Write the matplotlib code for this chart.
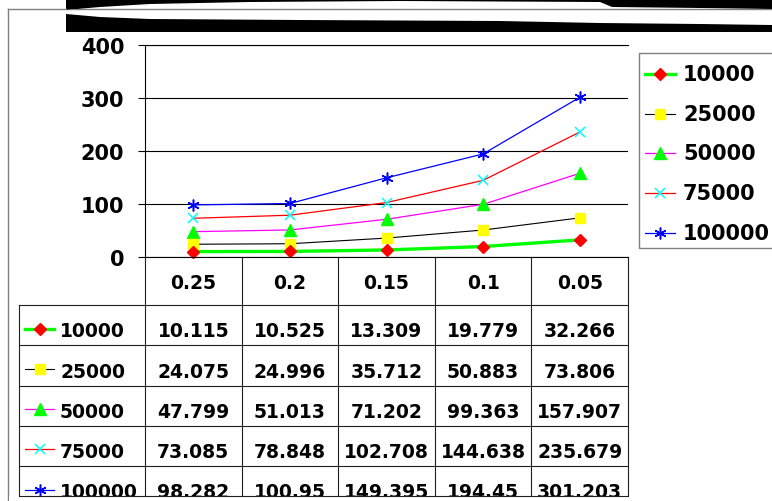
import numpy as np
import matplotlib
matplotlib.use("Agg")
import matplotlib.pyplot as plt
from matplotlib.patches import Rectangle, Polygon

plt.rcParams["font.family"] = "DejaVu Sans"
plt.rcParams["font.weight"] = "bold"

# Data
categories = ["0.25", "0.2", "0.15", "0.1", "0.05"]
series_labels = ["10000", "25000", "50000", "75000", "100000"]
s10000 = [10.115, 10.525, 13.309, 19.779, 32.266]
s25000 = [24.075, 24.996, 35.712, 50.883, 73.806]
s50000 = [47.799, 51.013, 71.202, 99.363, 157.907]
s75000 = [73.085, 78.848, 102.708, 144.638, 235.679]
s100000 = [98.282, 100.95, 149.395, 194.45, 301.203]
series_values = [s10000, s25000, s50000, s75000, s100000]
y_ticks = [0, 100, 200, 300, 400]

# Styles (Excel-like)
styles = [
    dict(color="#00ff00", lw=2.4, marker="D", ms=6.5, mfc="red", mec="red", mew=1),
    dict(color="black", lw=0.8, marker="s", ms=7, mfc="yellow", mec="yellow", mew=1),
    dict(color="magenta", lw=0.9, marker="^", ms=8, mfc="#00ff00", mec="#00ff00", mew=1),
    dict(color="red", lw=0.9, marker="x", ms=7.5, mfc="cyan", mec="cyan", mew=1.1),
    dict(color="blue", lw=0.9, marker=(6, 2, 0), ms=8.5, mfc="blue", mec="blue", mew=1.1),
]

W, H = 772, 502


def px_rect(x0, y0, x1, y1):
    return [x0 / W, 1 - y1 / H, (x1 - x0) / W, (y1 - y0) / H]


fig = plt.figure(figsize=(W / 100, H / 100), dpi=100)

# pixel-space overlay for frame, banner, legend and table
deco = fig.add_axes([0, 0, 1, 1])
deco.set_xlim(0, W)
deco.set_ylim(H, 0)
deco.axis("off")
deco.set_zorder(0)

# main chart
ax = fig.add_axes(px_rect(145, 46, 628, 258))
ax.set_zorder(1)
ax.patch.set_alpha(0)
x = np.arange(len(categories))
for vals, st in reversed(list(zip(series_values, styles))):
    ax.plot(x, vals, clip_on=False, **st)
ax.set_xlim(-0.5, len(categories) - 0.5)
ax.set_ylim(y_ticks[0], y_ticks[-1])
ax.set_yticks(y_ticks)
ax.set_xticks([])
ax.grid(axis="y", color="black", lw=0.8)
ax.set_axisbelow(True)
ax.tick_params(axis="y", length=5, width=0.8, pad=10, labelsize=15, colors="black")
for side in ["left", "bottom", "top"]:
    ax.spines[side].set_color("black")
    ax.spines[side].set_linewidth(0.8)
ax.spines["right"].set_visible(False)

# frame + brush banner
gray = "#808080"
deco.plot([8, 8], [10, H], color=gray, lw=1)
deco.plot([8, 66], [10, 10], color=gray, lw=1)
deco.add_patch(Rectangle((66, 0), W - 66, 33, color="black", lw=0))
streak = Polygon(
    [(66, 11), (100, 8), (150, 5), (250, 3), (400, 2), (600, 3), (612, 8), (700, 9), (772, 10),
     (772, 26), (700, 25), (600, 24), (500, 22), (300, 21), (150, 20), (100, 18), (66, 15)],
    closed=True, color="white", lw=0)
deco.add_patch(streak)
gline, = deco.plot([66, W], [10, 10], color=gray, lw=1)
gline.set_clip_path(streak)

# legend box
deco.add_patch(Rectangle((639, 54), 200, 195, facecolor="white", edgecolor=gray, lw=1))
for i, (lab, st) in enumerate(zip(series_labels, styles)):
    y = 75 + 39.7 * i
    deco.plot([645, 675], [y, y], color=st["color"], lw=st["lw"])
    deco.plot([660], [y], ls="none", marker=st["marker"], ms=st["ms"], mfc=st["mfc"],
              mec=st["mec"], mew=st["mew"])
    deco.text(683, y, lab, fontsize=15, va="center", ha="left")

# data table
edges = np.linspace(145, 628, len(categories) + 1)
tcol = "#202020"
header_top, header_bottom, row_h, table_bottom = 258, 306, 40.25, 497
row_tops = [header_bottom + row_h * k for k in range(len(series_labels))]
for e in edges:
    deco.plot([e, e], [header_top, table_bottom], color=tcol, lw=0.8)
deco.plot([19, 19], [header_bottom, table_bottom], color=tcol, lw=0.8)
for t in row_tops:
    deco.plot([19, edges[-1]], [t, t], color=tcol, lw=0.8)

centers = (edges[:-1] + edges[1:]) / 2
for c, cat in zip(centers, categories):
    deco.text(c, 289, cat, fontsize=13.5, ha="center", va="baseline")
for t, lab, vals, st in zip(row_tops, series_labels, series_values, styles):
    base = t + 31.5
    ym = t + 23.5
    deco.plot([25, 54], [ym, ym], color=st["color"], lw=st["lw"])
    deco.plot([40], [ym], ls="none", marker=st["marker"], ms=st["ms"], mfc=st["mfc"],
              mec=st["mec"], mew=st["mew"])
    deco.text(60, base, lab, fontsize=13.5, ha="left", va="baseline")
    for c, v in zip(centers, vals):
        deco.text(c, base, str(v), fontsize=13.5, ha="center", va="baseline")

# cut-off at the bottom edge
deco.add_patch(Rectangle((9, table_bottom), W, H - table_bottom + 5, facecolor="white",
                         lw=0, zorder=10))
deco.plot([19, edges[-1]], [table_bottom, table_bottom], color=tcol, lw=0.8, zorder=11)

fig.savefig("out.png", dpi=100)
